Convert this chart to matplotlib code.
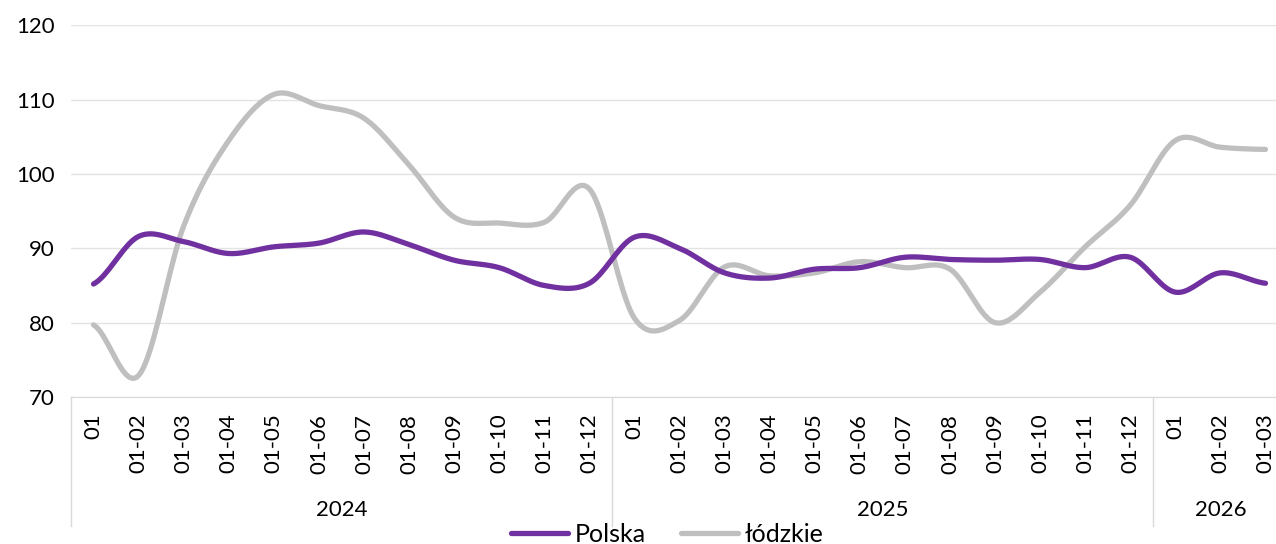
import numpy as np
import matplotlib
matplotlib.use("Agg")
import matplotlib.pyplot as plt

months = ["01", "01-02", "01-03", "01-04", "01-05", "01-06", "01-07", "01-08", "01-09",
          "01-10", "01-11", "01-12",
          "01", "01-02", "01-03", "01-04", "01-05", "01-06", "01-07", "01-08", "01-09",
          "01-10", "01-11", "01-12",
          "01", "01-02", "01-03"]
years = ["2024", "2025", "2026"]
year_counts = [12, 12, 3]

polska = [85.2, 91.6, 90.9, 89.3, 90.2, 90.7, 92.2, 90.5, 88.4, 87.4, 85.0, 85.3,
          91.5, 90.0, 86.7, 86.0, 87.2, 87.4, 88.8, 88.5, 88.4, 88.5, 87.4, 88.8,
          84.1, 86.7, 85.3]
lodzkie = [79.7, 72.9, 93.0, 104.5, 110.7, 109.2, 107.5, 101.2, 94.2, 93.4, 93.5, 98.0,
           80.6, 80.3, 87.5, 86.3, 86.7, 88.2, 87.4, 87.2, 80.0, 84.1, 90.2, 95.8,
           104.5, 103.6, 103.3]


def smooth(y, n=20):
    # Catmull-Rom curve through the points, like Excel's smoothed line
    y = np.asarray(y, float)
    p = np.concatenate([[y[0]], y, [y[-1]]])
    xs, ys = [], []
    t = np.linspace(0, 1, n, endpoint=False)
    for i in range(len(y) - 1):
        p0, p1, p2, p3 = p[i], p[i + 1], p[i + 2], p[i + 3]
        yy = 0.5 * ((2 * p1) + (-p0 + p2) * t + (2 * p0 - 5 * p1 + 4 * p2 - p3) * t ** 2
                    + (-p0 + 3 * p1 - 3 * p2 + p3) * t ** 3)
        xs.extend(i + t)
        ys.extend(yy)
    xs.append(len(y) - 1)
    ys.append(y[-1])
    return np.array(xs), np.array(ys)


plt.rcParams['font.family'] = ['Lato', 'DejaVu Sans']

fig = plt.figure(figsize=(12.76, 5.44), dpi=100)
ax = fig.add_axes([71 / 1276, 1 - 397 / 544, (1288 - 71) / 1276, (397 - 25.3) / 544])

x, y = smooth(lodzkie)
ax.plot(x, y, color="#bfbfbf", lw=3.8, solid_capstyle="round", label="łódzkie", zorder=3)
x, y = smooth(polska)
ax.plot(x, y, color="#7030a0", lw=3.8, solid_capstyle="round", label="Polska", zorder=4)

ax.set_xlim(-0.5, len(months) - 0.5)
ax.set_ylim(70, 120)
ax.set_yticks(range(70, 121, 10))
ax.yaxis.grid(True, color="#e3e3e3", lw=1)
ax.set_axisbelow(True)
for s in ["top", "right", "left"]:
    ax.spines[s].set_visible(False)
ax.spines["bottom"].set_color("#d9d9d9")
ax.tick_params(axis="y", length=0, labelsize=16, pad=12)
ax.set_xticks(range(len(months)))
ax.set_xticklabels(months, rotation=90, fontsize=16)
ax.tick_params(axis="x", length=0, pad=12)

# year groups below the month labels
pos = 0
bounds = [-0.5]
for yr, c in zip(years, year_counts):
    ax.text(pos + c / 2 - 0.5, -0.304, yr, transform=ax.get_xaxis_transform(),
            ha="center", va="center", fontsize=16)
    pos += c
    bounds.append(pos - 0.5)
for b in bounds:
    ax.plot([b, b], [0, -0.347], transform=ax.get_xaxis_transform(), color="#d9d9d9",
            lw=1, clip_on=False)

h, l = ax.get_legend_handles_labels()
fig.legend(h[::-1], l[::-1], loc="center", bbox_to_anchor=(667 / 1276, 1 - 534 / 544),
           ncol=2, frameon=False, fontsize=18, handlelength=2.3, columnspacing=1.4,
           handletextpad=0.25, borderpad=0)

fig.savefig("out.png", dpi=100)
